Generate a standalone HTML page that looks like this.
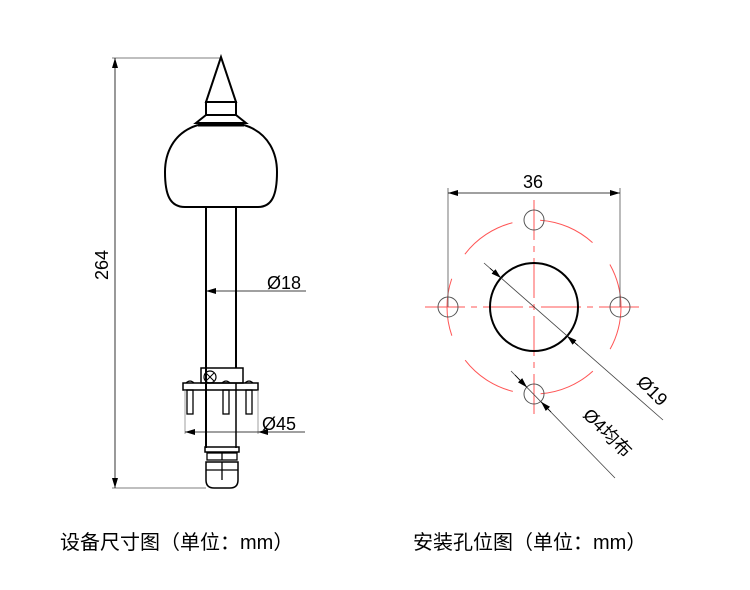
<!DOCTYPE html>
<html><head><meta charset="utf-8"><style>body{margin:0;background:#fff}svg{display:block}</style></head><body>
<svg width="750" height="590" viewBox="0 0 750 590" xmlns="http://www.w3.org/2000/svg" font-family="Liberation Sans, Noto Sans CJK SC, sans-serif">
<defs><marker id="a" viewBox="0 0 10 6" refX="10" refY="3" markerWidth="10" markerHeight="6" orient="auto-start-reverse" markerUnits="userSpaceOnUse"><path d="M0,0L10,3L0,6z" fill="#000"/></marker></defs>
<g fill="none" stroke="#000">
<path d="M112,58H221M112,488H206" stroke="#555" stroke-width="0.8"/>
<line x1="115" y1="58" x2="115" y2="488" stroke-width="0.8" marker-start="url(#a)" marker-end="url(#a)"/>
<path d="M221,57L206,102H236Z" stroke-width="2"/>
<rect x="206" y="102" width="30" height="13" stroke-width="2"/>
<path d="M206,115L196,123H246L236,115" stroke-width="2"/>
<path d="M198,125H244" stroke-width="3"/>
<path d="M198,125C172,133 165,155 165,172C165,195 170,207 185,207H258C272,207 277,195 277,172C277,155 270,133 244,125" stroke-width="2"/>
<path d="M206,207V448M236,207V368" stroke-width="2"/>
<path d="M236,383V448" stroke-width="1.5"/>
<line x1="206" y1="291" x2="306" y2="291" stroke-width="0.8" marker-start="url(#a)"/>
<rect x="201" y="368" width="42" height="15" stroke-width="1.5"/>
<circle cx="210" cy="377" r="6" stroke-width="1.2"/><path d="M206,373L214,381M214,373L206,381" stroke-width="1"/>
<rect x="183" y="383" width="75" height="7" stroke-width="1.5"/>
<path d="M186,383Q190,379 194,383M222,383Q226,379 230,383M245,383Q249,379 253,383" stroke-width="1.2"/>
<rect x="187" y="390" width="6" height="24" stroke-width="1.3"/>
<rect x="223" y="390" width="6" height="24" stroke-width="1.3"/>
<rect x="246" y="390" width="6" height="24" stroke-width="1.3"/>
<path d="M185,390V434M258,390V434" stroke="#777" stroke-width="0.7"/>
<line x1="258" y1="432" x2="305" y2="432" stroke-width="0.8" marker-start="url(#a)"/>
<line x1="185" y1="432" x2="258" y2="432" stroke-width="0.8" marker-start="url(#a)"/>
<rect x="205" y="447" width="34" height="5" stroke-width="1.5"/>
<rect x="207" y="453" width="30" height="7" stroke-width="1.3"/><path d="M222,453V460" stroke-width="1.3"/>
<path d="M206,462H238V480Q238,488 230,488H214Q206,488 206,480Z" stroke-width="1.5"/><path d="M222,462V480M206,470H238" stroke-width="1.3"/>
</g>
<text x="267" y="289" font-size="18">Ø18</text>
<text x="262" y="430" font-size="18">Ø45</text>
<text transform="translate(108,265) rotate(-90)" font-size="18" text-anchor="middle">264</text>
<g fill="none">
<circle cx="534" cy="307" r="87" stroke="#f55" stroke-width="1" stroke-dasharray="58 28" stroke-dashoffset="14"/>
<path d="M534,200V420M425,307H643" stroke="#f55" stroke-width="1" stroke-dasharray="40 6 6 6"/>
<circle cx="534" cy="307" r="44" stroke="#000" stroke-width="2"/>
<g stroke="#555" stroke-width="1"><circle cx="534" cy="220" r="10"/><circle cx="448" cy="307" r="10"/><circle cx="620" cy="307" r="10"/><circle cx="534" cy="394" r="10"/></g>
<path d="M448,188V307M620,188V307" stroke="#555" stroke-width="0.8"/>
<line x1="448" y1="193" x2="620" y2="193" stroke="#000" stroke-width="0.8" marker-start="url(#a)" marker-end="url(#a)"/>
<line x1="484" y1="263" x2="663" y2="420" stroke="#444" stroke-width="0.8"/>
<line x1="490" y1="268.3" x2="501" y2="278" stroke="#000" stroke-width="0.8" marker-end="url(#a)"/>
<line x1="578" y1="345.5" x2="567" y2="336" stroke="#000" stroke-width="0.8" marker-end="url(#a)"/>
<line x1="511" y1="371" x2="615" y2="478" stroke="#444" stroke-width="0.8"/>
<line x1="515" y1="375" x2="527" y2="387.4" stroke="#000" stroke-width="0.8" marker-end="url(#a)"/>
<line x1="551" y1="412" x2="541" y2="401.7" stroke="#000" stroke-width="0.8" marker-end="url(#a)"/>
</g>
<text x="533" y="188" font-size="18" text-anchor="middle">36</text>
<text transform="translate(636,383) rotate(45)" font-size="18">Ø19</text>
<text transform="translate(582,416) rotate(45)" font-size="18">Ø4均布</text>
<text x="60" y="549" font-size="20">设备尺寸图（单位：mm）</text>
<text x="413" y="549" font-size="20">安装孔位图（单位：mm）</text>
</svg>
</body></html>
